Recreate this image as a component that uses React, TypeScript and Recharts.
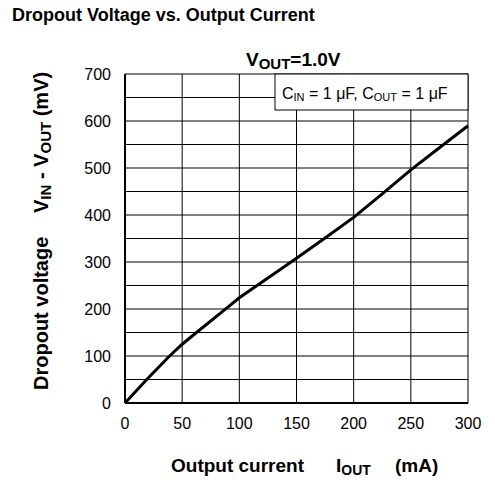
import React from "react";
import { LineChart, Line, XAxis, YAxis, CartesianGrid } from "recharts";

const currentMA = [0, 19, 39, 50, 62, 87, 100, 125, 150, 175, 200, 225, 250, 275, 300];
const dropoutMV = [0, 50, 100, 125, 149, 198, 224, 266, 308, 351, 395, 445, 496, 543, 590];
const xTicks = [0, 50, 100, 150, 200, 250, 300];
const yTicks = [0, 50, 100, 150, 200, 250, 300, 350, 400, 450, 500, 550, 600, 650, 700];
const yLabeledTicks = [0, 100, 200, 300, 400, 500, 600, 700];

const data = currentMA.map((x, i) => ({ x, y: dropoutMV[i] }));

const FONT = "'Liberation Sans', Arial, Helvetica, sans-serif";

export default function App() {
  return (
    <div style={{ position: "absolute", left: 0, top: 0, width: 495, height: 496, background: "#fff", fontFamily: FONT }}>
      <LineChart width={495} height={496} data={data} margin={{ top: 74, right: 27, bottom: 63, left: 65 }}>
        <CartesianGrid stroke="#000" strokeWidth={1} horizontal vertical />
        <XAxis
          dataKey="x"
          type="number"
          domain={[0, 300]}
          ticks={xTicks}
          height={30}
          tickLine={false}
          axisLine={{ stroke: "#000", strokeWidth: 2 }}
          tickMargin={9}
          tick={{ fill: "#000", fontSize: 16, fontFamily: FONT }}
          interval={0}
        />
        <YAxis
          type="number"
          domain={[0, 700]}
          ticks={yTicks}
          width={60}
          tickLine={false}
          axisLine={{ stroke: "#000", strokeWidth: 2 }}
          tickMargin={8}
          interval={0}
          tick={{ fill: "#000", fontSize: 16, fontFamily: FONT }}
          tickFormatter={(v: number) => (yLabeledTicks.includes(v) ? String(v) : "")}
        />
        <Line
          type="linear"
          dataKey="y"
          stroke="#000"
          strokeWidth={3}
          dot={false}
          activeDot={false}
          isAnimationActive={false}
        />
      </LineChart>
      <svg width={495} height={496} style={{ position: "absolute", left: 0, top: 0, pointerEvents: "none" }}>
        <text x={12} y={21} fontSize={18} fontWeight="bold" fontFamily={FONT} fill="#000">
          Dropout Voltage vs. Output Current
        </text>
        <text x={246} y={66} fontSize={19} fontWeight="bold" fontFamily={FONT} fill="#000">
          V<tspan fontSize={15} dy={3}>OUT</tspan><tspan dy={-3}>=1.0V</tspan>
        </text>
        <rect x={275} y={74} width={193} height={36} fill="#fff" stroke="#000" strokeWidth={1} />
        <text x={282} y={99} fontSize={16} fontFamily={FONT} fill="#000">
          C<tspan fontSize={11} dy={2}>IN</tspan><tspan dy={-2}> = 1 μF, C</tspan><tspan fontSize={11} dy={2}>OUT</tspan><tspan dy={-2}> = 1 μF</tspan>
        </text>
        <text x={171} y={472} fontSize={19} fontWeight="bold" fontFamily={FONT} fill="#000">
          Output current
        </text>
        <text x={336} y={472} fontSize={19} fontWeight="bold" fontFamily={FONT} fill="#000">
          I<tspan fontSize={14} dy={3}>OUT</tspan>
        </text>
        <text x={395} y={472} fontSize={19} fontWeight="bold" fontFamily={FONT} fill="#000">
          (mA)
        </text>
        <text x={48} y={390} transform="rotate(-90, 48, 390)" fontSize={20} fontWeight="bold" fontFamily={FONT} fill="#000">
          Dropout voltage
        </text>
        <text x={48} y={213} transform="rotate(-90, 48, 213)" fontSize={20} fontWeight="bold" fontFamily={FONT} fill="#000">
          V<tspan fontSize={15} dy={3}>IN</tspan><tspan dy={-3}> - V</tspan><tspan fontSize={15} dy={3}>OUT</tspan><tspan dy={-3}> (mV)</tspan>
        </text>
      </svg>
    </div>
  );
}
